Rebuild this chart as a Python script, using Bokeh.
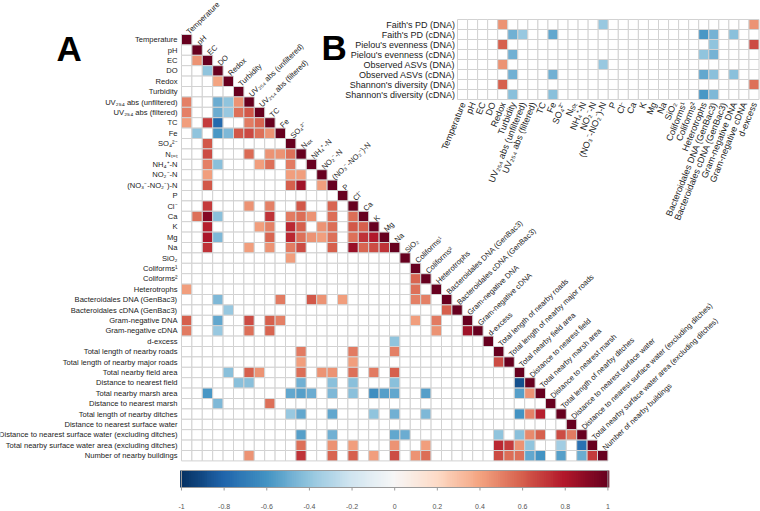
import numpy as np
from bokeh.plotting import figure
from bokeh.models import Range1d, ColumnDataSource, LinearColorMapper
from bokeh.core.properties import value
from bokeh.embed import file_html
from bokeh.resources import INLINE

# ---------------- data ----------------
A_LABELS = ["Temperature", "pH", "EC", "DO", "Redox", "Turbidity",
            "UV₂₅₄ abs (unfiltered)", "UV₂₅₄ abs (filtered)", "TC", "Fe", "SO₄²⁻", "Nₜₒₜ",
            "NH₄⁺-N", "NO₂⁻-N", "(NO₃⁻-NO₂⁻)-N", "P", "Cl⁻", "Ca", "K", "Mg", "Na", "SiO₂",
            "Coliforms¹", "Coliforms²", "Heterotrophs", "Bacteroidales DNA (GenBac3)",
            "Bacteroidales cDNA (GenBac3)", "Gram-negative DNA", "Gram-negative cDNA", "d-excess",
            "Total length of nearby roads", "Total length of nearby major roads",
            "Total nearby field area", "Distance to nearest field", "Total nearby marsh area",
            "Distance to nearest marsh", "Total length of nearby ditches",
            "Distance to nearest surface water",
            "Distance to nearest surface water (excluding ditches)",
            "Total nearby surface water area (excluding ditches)", "Number of nearby buildings"]

B_ROW_LABELS = ["Faith's PD (DNA)", "Faith's PD (cDNA)", "Pielou's evenness (DNA)",
                "Pielou's evenness (cDNA)", "Observed ASVs (DNA)", "Observed ASVs (cDNA)",
                "Shannon's diversity (DNA)", "Shannon's diversity (cDNA)"]
B_COL_LABELS = A_LABELS[:30]

# panel A: significant correlations (row, column, r) in the lower triangle
a_row = [2, 3, 4,
         6, 6, 6, 6,
         7, 7, 7, 7, 7,
         8, 8, 8, 8, 8, 8,
         9, 9, 9, 9, 9, 9, 9,
         10,
         11, 11, 11, 11, 11,
         12, 12, 12, 12, 12,
         13, 13, 13,
         14, 14, 14, 14,
         16, 16, 16, 16, 16,
         17, 17, 17, 17, 17, 17, 17, 17, 17,
         18, 18, 18, 18, 18, 18, 18, 18, 18,
         19, 19, 19, 19, 19, 19, 19, 19, 19, 19, 19,
         20, 20, 20, 20, 20, 20, 20, 20, 20, 20,
         21,
         23,
         24, 24,
         25, 25, 25, 25, 25, 25, 25,
         26, 26,
         27, 27, 27, 27, 27, 27, 27,
         28, 28, 28, 28, 28, 28,
         29,
         30, 30, 30,
         31, 31, 31,
         32, 32, 32, 32, 32, 32, 32, 32, 32,
         33, 33, 33, 33, 33, 33, 33,
         34, 34, 34, 34, 34, 34, 34, 34, 34, 34, 34, 34,
         35, 35,
         36, 36, 36, 36, 36, 36, 36, 36, 36,
         38, 38, 38, 38, 38, 38, 38, 38, 38, 38,
         39, 39, 39, 39, 39, 39, 39, 39, 39, 39, 39,
         40, 40, 40, 40, 40, 40, 40, 40, 40, 40, 40, 40, 40, 40, 40, 40]
a_col = [1, 2, 3,
         0, 3, 4, 5,
         0, 3, 4, 5, 6,
         0, 2, 3, 6, 7, 7,
         1, 3, 4, 5, 6, 7, 8,
         2,
         2, 6, 8, 9, 10,
         2, 3, 7, 8, 10,
         2, 10, 11,
         2, 10, 11, 13,
         2, 6, 8, 11, 14,
         1, 2, 3, 8, 10, 11, 12, 14, 16,
         2, 7, 8, 10, 11, 13, 14, 16, 17,
         2, 3, 8, 10, 11, 12, 13, 14, 16, 17, 18,
         2, 6, 8, 10, 11, 14, 16, 17, 18, 19,
         10,
         22,
         0, 22,
         3, 9, 12, 13, 15, 22, 23,
         4, 25,
         0, 3, 6, 8, 9, 22, 24,
         0, 3, 6, 8, 24, 27,
         20,
         11, 16, 20,
         11, 16, 30,
         4, 6, 7, 11, 13, 14, 16, 18, 20,
         5, 6, 11, 14, 16, 20, 32,
         2, 10, 11, 12, 14, 16, 18, 19, 20, 23, 32, 33,
         3, 8,
         10, 11, 14, 18, 20, 23, 32, 33, 34,
         11, 14, 20, 21, 30, 32, 33, 34, 36, 37,
         11, 14, 16, 20, 23, 30, 31, 32, 33, 36, 38,
         6, 11, 14, 16, 18, 20, 22, 23, 30, 31, 32, 33, 34, 36, 38, 39]
a_val = [0.45, -0.40, 0.40,
         0.50, -0.50, -0.40, 0.45,
         0.50, -0.50, -0.38, 0.55, 0.62,
         0.42, 0.70, -0.78, 0.52, 0.58, 0.58,
         -0.40, -0.58, -0.45, 0.62, 0.66, 0.55, 0.45,
         0.62,
         0.65, 0.57, 0.45, 0.45, 0.55,
         0.50, -0.42, 0.42, 0.55, 0.52,
         0.42, 0.42, 0.42,
         0.62, 0.60, 0.85, 0.42,
         0.70, 0.45, 0.50, 0.62, 0.58,
         0.55, 0.92, -0.42, 0.72, 0.52, 0.56, 0.45, 0.56, 0.56,
         0.78, 0.42, 0.50, 0.75, 0.60, 0.45, 0.56, 0.62, 0.60,
         0.82, -0.45, 0.58, 0.75, 0.55, 0.45, 0.42, 0.55, 0.55, 0.72, 0.80,
         0.72, 0.42, 0.45, 0.52, 0.65, 0.60, 0.86, 0.58, 0.65, 0.72,
         0.42,
         0.58,
         0.42, 0.55,
         -0.45, 0.52, 0.62, 0.45, 0.42, 0.50, 0.50,
         -0.38, 0.60,
         0.60, -0.52, 0.65, 0.60, 0.50, 0.42, 0.52,
         0.52, -0.38, 0.55, 0.58, 0.45, 0.85,
         -0.40,
         0.52, 0.52, 0.50,
         0.42, 0.42, 0.65,
         -0.42, 0.60, 0.45, 0.56, 0.45, 0.45, 0.55, 0.52, 0.60,
         -0.42, -0.42, -0.48, -0.42, -0.42, -0.42, -0.88,
         -0.58, -0.52, -0.55, -0.50, -0.45, -0.42, -0.62, -0.55, -0.52, -0.55, -0.55, 0.45,
         -0.45, 0.55,
         -0.38, -0.52, -0.52, -0.40, -0.48, -0.45, -0.60, 0.50, 0.78,
         -0.55, -0.48, -0.52, -0.50, -0.40, -0.42, 0.48, 0.60, 0.65, 0.52,
         0.55, 0.45, 0.42, 0.45, 0.42, 0.75, 0.70, 0.45, -0.40, -0.35, -0.75,
         0.45, 0.72, 0.58, 0.60, 0.42, 0.65, 0.45, 0.56, 0.65, 0.56, 0.55, -0.52, -0.60, -0.55, -0.50, 0.70]

# panel B: diversity metrics vs. variables (row, column, r)
b_row = [0, 0, 0,
         1, 1, 1, 1, 1, 1,
         2, 2, 2,
         3, 3, 3,
         4, 4,
         5, 5, 5, 5, 5,
         6, 6,
         7, 7, 7, 7]
b_col = [4, 14, 29,
         5, 6, 9, 24, 25, 27,
         4, 25, 29,
         5, 24, 25,
         4, 14,
         5, 9, 24, 25, 27,
         4, 29,
         5, 9, 24, 25]
b_val = [0.45, -0.38, 0.45,
         -0.48, -0.38, -0.52, -0.58, -0.47, -0.42,
         0.60, -0.40, 0.65,
         -0.48, -0.40, -0.47,
         0.45, -0.38,
         -0.48, -0.48, -0.52, -0.42, -0.42,
         0.60, 0.55,
         -0.42, -0.42, -0.58, -0.45]

CB_TICKS = [-1, -0.8, -0.6, -0.4, -0.2, 0, 0.2, 0.4, 0.6, 0.8, 1]

# ---------------- colours ----------------
RDBU = ['#053061', '#2166ac', '#4393c3', '#92c5de', '#d1e5f0', '#f7f7f7',
        '#fddbc7', '#f4a582', '#d6604d', '#b2182b', '#67001f']
rgb = np.array([[int(h[k:k + 2], 16) for k in (1, 3, 5)] for h in RDBU], float)
stops = np.linspace(0, 1, len(RDBU))
tt = np.linspace(0, 1, 256)
palette = ['#%02x%02x%02x' % tuple(int(round(np.interp(t, stops, rgb[:, c]))) for c in range(3))
           for t in tt]
mapper = LinearColorMapper(palette=palette, low=-1, high=1, nan_color="white")

# ---------------- layout geometry ----------------
U = 10.4            # px per cell unit
W, H = 760, 511
X0 = -181 / U
Y0 = -34 / U


def px(xp):
    return X0 + xp / U


def py(yp):
    return Y0 + yp / U


p = figure(width=W, height=H, x_range=Range1d(X0, X0 + W / U), y_range=Range1d(Y0 + H / U, Y0),
           output_backend="svg", toolbar_location=None, min_border=0,
           x_axis_location=None, y_axis_location=None)
p.grid.visible = False
p.outline_line_color = None

FONT = value("Liberation Sans")
GRID = "#d2d2d2"
TXT = "#222222"

# ---------------- panel A ----------------
n = len(A_LABELS)
lookup = {(r, c): v for r, c, v in zip(a_row, a_col, a_val)}
xs, ys, vs = [], [], []
for i in range(n):
    for j in range(i + 1):
        xs.append(j + 0.5)
        ys.append(i + 0.5)
        vs.append(1.0 if i == j else lookup.get((i, j), np.nan))
srcA = ColumnDataSource(dict(x=xs, y=ys, v=np.array(vs, float)))
p.rect(x="x", y="y", width=1, height=1, source=srcA,
       fill_color={"field": "v", "transform": mapper}, line_color=GRID, line_width=1)

idx = np.arange(n)
p.text(x=[-0.38] * n, y=list(idx + 0.5), text=A_LABELS, text_align="right",
       text_baseline="middle", text_font=FONT, text_font_size="7.6px", text_color=TXT)
p.text(x=list(idx + 0.6), y=list(idx - 0.15), text=A_LABELS, angle=np.deg2rad(44),
       text_align="left", text_baseline="middle", text_font=FONT,
       text_font_size="7.6px", text_color=TXT)

# ---------------- panel B ----------------
BX0, BY0 = px(457), py(19)
BW, BH = 10.05 / U, 10.0 / U
nbr, nbc = len(B_ROW_LABELS), len(B_COL_LABELS)
lookB = {(r, c): v for r, c, v in zip(b_row, b_col, b_val)}
bx, by, bv = [], [], []
for r in range(nbr):
    for c in range(nbc):
        bx.append(BX0 + (c + 0.5) * BW)
        by.append(BY0 + (r + 0.5) * BH)
        bv.append(lookB.get((r, c), np.nan))
srcB = ColumnDataSource(dict(x=bx, y=by, v=np.array(bv, float)))
p.rect(x="x", y="y", width=BW, height=BH, source=srcB,
       fill_color={"field": "v", "transform": mapper}, line_color=GRID, line_width=1)

p.text(x=[BX0 - 0.25] * nbr, y=[BY0 + (r + 0.5) * BH for r in range(nbr)], text=B_ROW_LABELS,
       text_align="right", text_baseline="middle", text_font=FONT,
       text_font_size="9px", text_color=TXT)
p.text(x=[BX0 + (c + 0.5) * BW + 0.05 for c in range(nbc)], y=[BY0 + nbr * BH + 0.3] * nbc,
       text=B_COL_LABELS, angle=np.deg2rad(68), text_align="right", text_baseline="middle",
       text_font=FONT, text_font_size="9px", text_color=TXT)

# ---------------- panel letters ----------------
p.text(x=[px(56), px(321)], y=[py(48), py(47)], text=["A", "B"], text_align="left",
       text_baseline="alphabetic", text_font=FONT, text_font_style="bold",
       text_font_size="35px", text_color="black")

# ---------------- colour bar ----------------
cb_top, cb_bot = py(470), py(487)
cv = np.linspace(-1, 1, 241)
step = n / (len(cv) - 1)
srcC = ColumnDataSource(dict(x=(cv + 1) / 2 * n, v=cv))
p.rect(x="x", y=(cb_top + cb_bot) / 2, width=step * 1.6, height=cb_bot - cb_top, source=srcC,
       fill_color={"field": "v", "transform": mapper}, line_color=None)
p.rect(x=n / 2, y=(cb_top + cb_bot) / 2, width=n, height=cb_bot - cb_top,
       fill_color=None, line_color="#9a9a9a", line_width=1)
tx = [(t + 1) / 2 * n for t in CB_TICKS]
p.segment(x0=tx, y0=[cb_bot] * len(tx), x1=tx, y1=[py(490)] * len(tx),
          line_color="#9a9a9a", line_width=1)
p.text(x=tx, y=[py(506)] * len(tx), text=[("%g" % t) for t in CB_TICKS],
       text_align="center", text_baseline="middle", text_font=FONT,
       text_font_size="7px", text_color="#555555")

open("out.html", "w").write(file_html(p, INLINE))
